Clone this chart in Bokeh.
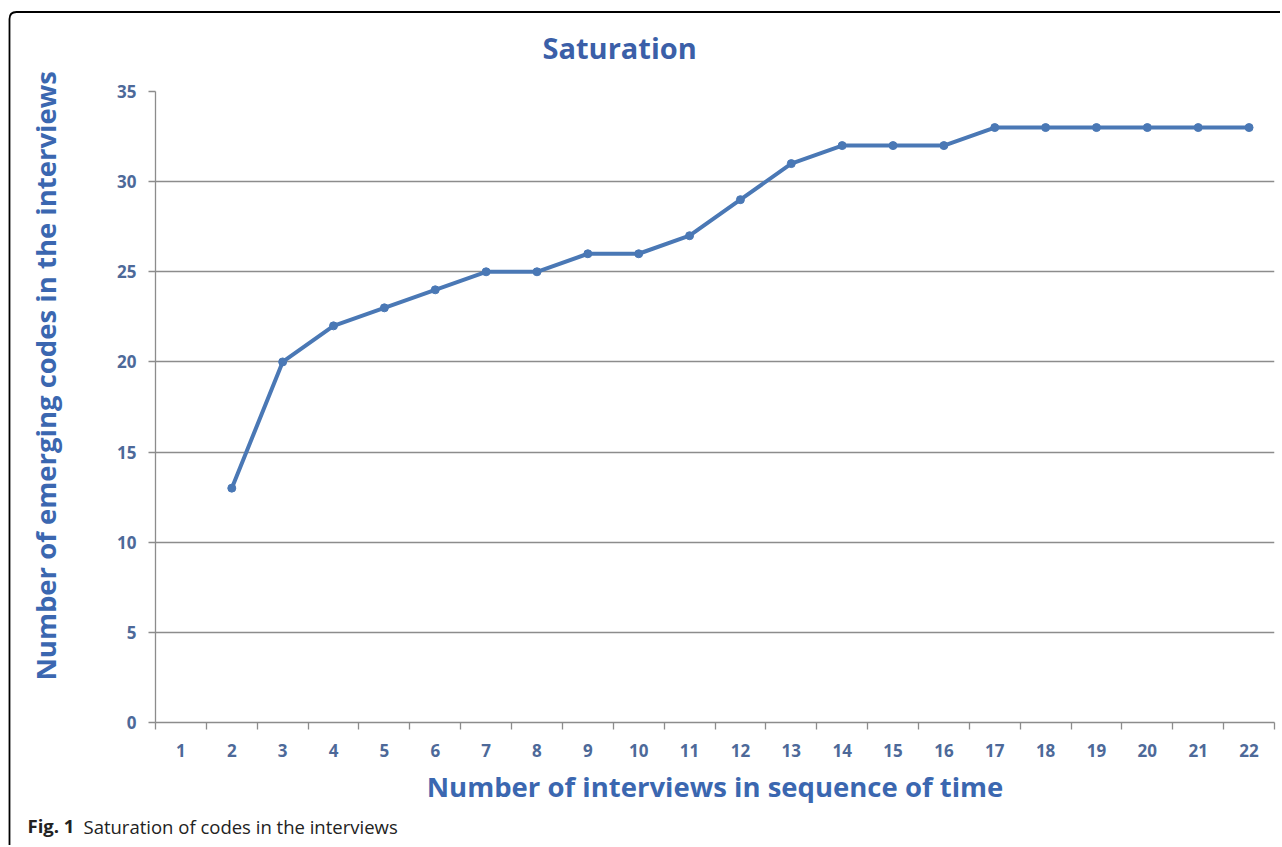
from bokeh.plotting import figure
from bokeh.models import FixedTicker, Range1d, Title
from bokeh.embed import file_html
from bokeh.resources import INLINE

interviews = list(range(1, 23))
codes = [None, 13, 20, 22, 23, 24, 25, 25, 26, 26, 27, 29, 31, 32, 32, 32, 33, 33, 33, 33, 33, 33]
y_ticks = [0, 5, 10, 15, 20, 25, 30, 35]

xs = [x for x, c in zip(interviews, codes) if c is not None]
ys = [c for c in codes if c is not None]

W, H = 1280, 845
p = figure(width=W, height=H, output_backend="svg", toolbar_location=None,
           x_range=Range1d(0.5, 22.5), y_range=Range1d(0, 35),
           min_border_left=155, min_border_right=6, min_border_top=91, min_border_bottom=123)
p.outline_line_color = None
p.background_fill_color = "white"
p.border_fill_alpha = 0

border_svg = ("url(\"data:image/svg+xml;utf8,<svg xmlns='http://www.w3.org/2000/svg' width='1280' height='845'>"
              "<path d='M9.5 845 V19 Q9.5 12 16.5 12 H1280' fill='none' stroke='black' stroke-width='1.8'/></svg>\")")
p.styles = {"background-image": border_svg, "background-repeat": "no-repeat"}

lab_col = "#4d6999"
ax_col = "#3b67b0"
grid_col = "#8c8c8c"

p.xgrid.visible = False
p.ygrid.grid_line_color = grid_col
p.ygrid.grid_line_width = 1.3

p.xaxis.ticker = FixedTicker(ticks=interviews, minor_ticks=[i + 0.5 for i in range(0, 23)])
p.xaxis.major_tick_line_color = None
p.xaxis.major_tick_out = 0
p.xaxis.minor_tick_out = 7
p.xaxis.minor_tick_in = 0
p.xaxis.minor_tick_line_color = grid_col
p.xaxis.minor_tick_line_width = 1.3
p.xaxis.axis_line_color = grid_col
p.xaxis.axis_line_width = 1.3
p.xaxis.major_label_standoff = 14
p.xaxis.major_label_text_font = "Open Sans"
p.xaxis.major_label_text_font_style = "bold"
p.xaxis.major_label_text_font_size = "17px"
p.xaxis.major_label_text_color = lab_col
p.xaxis.axis_label = "Number of interviews in sequence of time"
p.xaxis.axis_label_text_font = "Open Sans"
p.xaxis.axis_label_text_font_style = "bold"
p.xaxis.axis_label_text_font_size = "27.5px"
p.xaxis.axis_label_text_color = ax_col
p.xaxis.axis_label_standoff = 8

p.yaxis.ticker = FixedTicker(ticks=y_ticks, minor_ticks=[])
p.yaxis.major_tick_out = 7
p.yaxis.major_tick_in = 0
p.yaxis.major_tick_line_color = grid_col
p.yaxis.major_tick_line_width = 1.3
p.yaxis.axis_line_color = grid_col
p.yaxis.axis_line_width = 1.3
p.yaxis.major_label_standoff = 12
p.yaxis.major_label_text_font = "Open Sans"
p.yaxis.major_label_text_font_style = "bold"
p.yaxis.major_label_text_font_size = "17px"
p.yaxis.major_label_text_color = lab_col

p.line(xs, ys, line_color="#4a78b5", line_width=4)
p.scatter(xs, ys, size=8, fill_color="#4a78b5", line_color="#4a78b5")

# main title
p.add_layout(Title(text="Saturation", align="left", offset=387, vertical_align="bottom", standoff=50,
                   text_font="Open Sans", text_font_style="bold", text_font_size="29px",
                   text_color="#3b5fa8"), "above")

# spacer between y tick labels and the vertical title
p.add_layout(Title(text=" ", standoff=47, text_font_size="1px"), "left")
p.add_layout(Title(text="Number of emerging codes in the interviews", align="left", offset=42,
                   vertical_align="middle", standoff=0,
                   text_font="Open Sans", text_font_style="bold", text_font_size="27.5px",
                   text_color=ax_col), "left")

# caption
p.add_layout(Title(text="Fig. 1", align="left", offset=-128, vertical_align="middle", standoff=8,
                   text_font="Open Sans", text_font_style="bold", text_font_size="18.5px",
                   text_color="#222222"), "below")
p.add_layout(Title(text="Saturation of codes in the interviews", align="left", offset=-72,
                   vertical_align="top", standoff=-58,
                   text_font="Open Sans", text_font_style="normal", text_font_size="18.5px",
                   text_color="#222222"), "below")

open("out.html", "w").write(file_html(p, INLINE))
